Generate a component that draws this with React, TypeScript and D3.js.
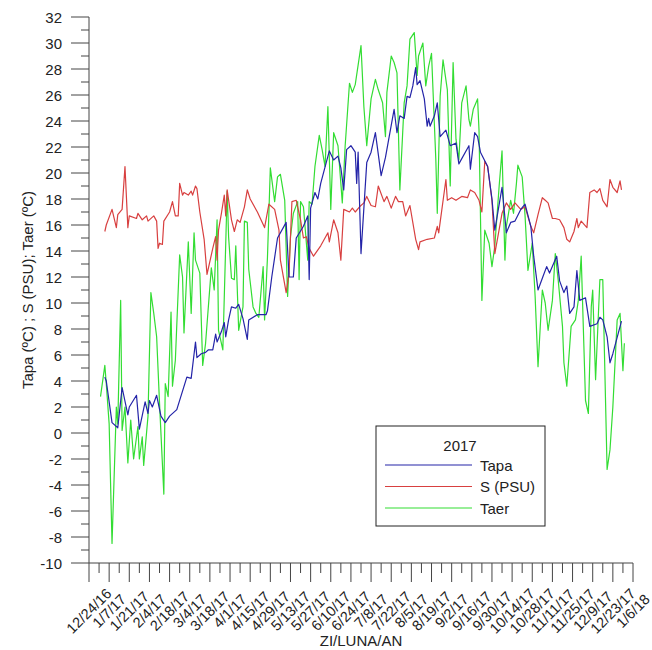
import React from "react";
import * as d3 from "d3";

const tapaDays = [4,5,9,13,16,20,21,26,28,32,34,35,37,40,43,46,49,54,61,64,67,68,71,74,76,79,81,82,85,87,88,90,92,95,97,100,103,104,110,116,117,120,124,130,132,135,137,142,145,146,147,150,152,154,160,163,166,168,170,172,175,178,179,180,182,186,189,192,196,199,205,207,209,212,214,216,218,220,221,223,226,228,229,230,233,235,237,241,244,248,250,257,258,261,263,265,270,273,275,280,283,286,289,293,296,300,302,305,308,311,313,318,320,323,325,327,330,332,334,338,341,346,348,350,353,355,357,363];
const tapaValues = [4.3,4.0,0.8,0.4,3.5,1.4,2.0,2.9,0.3,2.4,1.5,2.5,2.0,2.9,1.3,0.8,1.3,1.8,4.3,4.2,7.0,5.8,6.1,6.2,6.4,6.4,7.6,7.0,7.8,8.5,7.4,8.7,9.7,9.6,9.9,8.8,7.2,8.7,9.1,9.1,9.4,12.0,15.0,16.2,12.0,12.0,15.0,15.9,16.7,11.8,17.3,18.5,18.0,19.2,21.7,21.0,21.3,20.4,18.7,21.8,22.1,21.6,19.2,21.6,13.8,20.8,21.6,23.1,19.8,21.2,24.9,23.1,24.4,24.2,25.9,25.8,26.7,28.1,26.8,27.1,25.7,23.6,24.2,23.6,24.4,25.4,22.8,23.3,22.1,22.3,20.7,22.1,20.3,23.1,22.8,21.6,20.5,18.0,15.6,18.9,15.4,16.2,16.3,17.2,17.6,15.9,13.6,11.0,11.9,12.8,12.3,13.6,11.7,10.8,11.3,9.2,9.7,12.5,10.2,10.4,8.2,8.4,8.9,8.7,7.4,5.4,6.1,8.6];

const salDays = [4,5,9,12,13,16,18,20,21,26,27,30,33,34,38,40,41,42,44,45,49,51,53,55,56,58,59,62,64,65,67,68,70,73,75,79,81,82,83,85,87,88,89,92,94,96,98,101,103,105,110,115,118,122,125,126,130,132,134,137,140,142,144,146,149,154,159,160,163,166,168,170,174,176,178,181,184,186,189,192,194,198,200,203,206,208,211,213,216,220,222,223,228,233,235,236,241,242,245,248,252,256,258,261,264,266,268,270,273,275,280,283,286,289,293,296,300,302,305,308,310,312,315,317,320,323,325,327,330,332,333,335,339,341,344,346,348,350,353,355,357,360,362,363];
const salValues = [15.5,16.0,17.2,15.8,16.8,17.2,20.5,15.8,16.7,16.5,16.9,16.4,16.7,16.3,16.7,16.3,14.2,14.6,14.5,16.3,17.0,17.8,16.7,16.7,19.2,18.3,18.5,18.3,18.6,18.3,19.0,18.8,17.0,14.9,12.2,14.2,15.1,13.3,15.6,16.9,18.3,16.7,18.7,16.4,15.5,16.4,16.2,17.4,18.7,18.0,17.0,15.8,17.6,17.2,15.6,13.3,10.8,12.3,17.8,17.9,16.4,15.0,15.1,14.2,13.6,14.4,15.4,14.7,16.4,15.4,13.3,17.2,17.0,17.3,17.0,17.4,17.7,18.2,17.5,17.4,19.0,17.8,18.2,17.3,18.2,17.8,17.8,16.7,17.5,14.9,14.1,14.7,14.9,15.0,15.9,15.4,19.5,17.9,18.1,17.9,18.2,18.1,18.7,18.5,17.9,17.0,20.9,20.5,17.9,13.8,16.9,17.7,17.2,17.7,17.2,17.4,15.9,15.4,16.8,18.1,17.9,17.7,16.5,16.5,16.4,15.8,14.9,14.7,15.5,16.5,15.8,16.3,15.8,18.5,18.7,18.5,18.8,17.9,17.4,19.5,18.9,18.5,19.4,18.7];

const taerDays = [1,4,5,7,9,12,13,15,16,18,20,22,24,27,28,30,31,34,36,38,40,42,45,46,48,50,51,53,56,58,59,62,64,66,67,70,72,74,78,80,82,83,86,89,90,92,94,95,97,100,101,103,104,107,109,111,114,115,117,119,122,124,126,129,131,133,135,138,139,140,142,145,146,148,150,153,155,157,159,161,163,166,168,169,171,174,176,178,182,184,186,189,192,194,197,199,200,203,205,207,209,212,214,216,219,221,222,225,227,229,231,234,235,237,239,242,244,246,248,250,252,255,257,258,260,263,264,266,268,271,273,275,278,280,282,283,286,288,290,291,294,296,298,301,303,305,308,310,312,315,317,319,322,323,325,328,331,333,335,338,340,342,343,345,348,350,353,355,357,360,362,364,365];
const taerValues = [2.8,5.2,3.8,0.7,-8.5,2.0,0.7,10.2,0.2,2.0,-2.3,1.0,-2.0,0.5,-2.0,-0.3,-2.5,1.3,10.8,9.2,7.4,2.3,-4.7,3.8,2.8,9.3,3.6,5.6,13.7,12.0,7.7,14.7,9.2,15.4,13.3,12.3,5.2,6.9,12.7,11.0,16.4,7.9,6.4,18.6,15.1,11.9,11.8,14.4,7.9,9.7,16.3,16.2,12.6,9.7,9.2,8.9,12.8,8.7,13.5,20.4,17.8,19.7,19.9,17.9,10.5,15.1,16.9,17.8,11.8,17.8,17.4,13.3,17.8,17.6,20.5,22.9,21.8,20.5,25.1,17.2,23.1,22.1,19.2,17.7,22.1,26.9,26.2,26.8,29.8,25.1,22.1,25.7,27.2,26.4,25.4,22.8,26.2,29.0,28.5,27.7,18.7,25.4,26.7,30.3,30.8,27.5,29.0,30.0,26.7,28.2,29.2,21.0,16.9,25.9,28.7,26.4,19.0,28.5,22.6,21.0,25.4,26.7,24.1,23.6,24.9,25.7,23.3,10.2,15.6,14.6,12.8,14.4,19.0,21.7,13.3,15.9,17.9,16.9,19.2,20.6,19.7,16.7,12.5,14.6,10.5,5.1,11.0,10.0,7.9,10.2,13.8,11.8,8.2,5.4,3.6,8.2,8.7,10.2,13.6,2.5,1.5,9.7,11.0,4.1,11.8,11.8,-2.8,-1.3,2.0,8.7,9.2,4.8,6.9];

const xTickLabels = ["12/24/16","1/7/17","1/21/17","2/4/17","2/18/17","3/4/17","3/18/17","4/1/17","4/15/17","4/29/17","5/13/17","5/27/17","6/10/17","6/24/17","7/8/17","7/22/17","8/5/17","8/19/17","9/2/17","9/16/17","9/30/17","10/14/17","10/28/17","11/11/17","11/25/17","12/9/17","12/23/17","1/6/18"];
const yTicks = d3.range(-10, 33, 2);
const yMinorTicks = d3.range(-9, 32, 2);

const seriesNames = ["Tapa", "S (PSU)", "Taer"];
const seriesColors = ["#2424a8", "#d84040", "#33dd33"];

const FONT = "Arial, 'Liberation Sans', sans-serif";

export default function App() {
  const start = new Date(2016, 11, 24);
  const end = new Date(2018, 0, 6);
  const x = d3.scaleTime().domain([start, end]).range([89, 633]);
  const y = d3.scaleLinear().domain([-10, 32]).range([563, 17]);
  const toDate = (doy: number) => new Date(2017, 0, doy);

  const series = [
    { days: tapaDays, values: tapaValues },
    { days: salDays, values: salValues },
    { days: taerDays, values: taerValues },
  ];
  const line = d3
    .line<[number, number]>()
    .x((d) => x(toDate(d[0])))
    .y((d) => y(d[1]));

  const weekTicks = d3.range(0, xTickLabels.length * 2 - 1).map((i) => d3.timeDay.offset(start, 7 * i));
  const drawOrder = [2, 1, 0];

  return (
    <svg width={652} height={650} style={{ position: "absolute", left: 0, top: 0, background: "#fff" }} fontFamily={FONT}>
      <rect x={0} y={0} width={652} height={650} fill="#fff" />
      {drawOrder.map((si) => {
        const s = series[si];
        const pts = s.days.map((d, i) => [d, s.values[i]] as [number, number]);
        return <path key={si} d={line(pts) || ""} fill="none" stroke={seriesColors[si]} strokeWidth={1.2} strokeLinejoin="round" />;
      })}
      {/* Y axis */}
      <line x1={89} x2={89} y1={y(32)} y2={y(-10)} stroke="#444" strokeWidth={1} />
      {yTicks.map((t) => (
        <g key={"y" + t}>
          <line x1={71} x2={89} y1={y(t)} y2={y(t)} stroke="#444" strokeWidth={1} />
          <text x={62} y={y(t)} textAnchor="end" dominantBaseline="central" fontSize={15} fill="#222">{t}</text>
        </g>
      ))}
      {yMinorTicks.map((t) => (
        <line key={"ym" + t} x1={81} x2={89} y1={y(t)} y2={y(t)} stroke="#444" strokeWidth={1} />
      ))}
      {/* X axis */}
      <line x1={89} x2={633} y1={563} y2={563} stroke="#444" strokeWidth={1} />
      {weekTicks.map((d, i) => (
        <line key={"xt" + i} x1={x(d)} x2={x(d)} y1={563} y2={i % 2 === 0 ? 582 : 573} stroke="#444" strokeWidth={1} />
      ))}
      {xTickLabels.map((lab, i) => {
        const px = x(weekTicks[i * 2]);
        return (
          <text key={"xl" + i} x={0} y={0} transform={`translate(${px},${611}) rotate(-45)`} textAnchor="middle" dominantBaseline="central" fontSize={14.5} fill="#222">
            {lab}
          </text>
        );
      })}
      <text x={361} y={646} textAnchor="middle" fontSize={15} fill="#222">ZI/LUNA/AN</text>
      <text x={0} y={0} transform="translate(27,290) rotate(-90)" textAnchor="middle" dominantBaseline="central" fontSize={15} fill="#222">
        Tapa (ºC) ; S (PSU); Taer (ºC)
      </text>
      {/* Legend */}
      <rect x={376} y={426} width={169} height={100} fill="#fff" stroke="#222" strokeWidth={1} />
      <text x={460} y={445} textAnchor="middle" dominantBaseline="central" fontSize={15} fill="#222">2017</text>
      {seriesNames.map((n, i) => (
        <g key={"lg" + i}>
          <line x1={385} x2={472} y1={465 + i * 21.5} y2={465 + i * 21.5} stroke={seriesColors[i]} strokeWidth={1.2} />
          <text x={480} y={465 + i * 21.5} dominantBaseline="central" fontSize={15} fill="#222">{n}</text>
        </g>
      ))}
    </svg>
  );
}
